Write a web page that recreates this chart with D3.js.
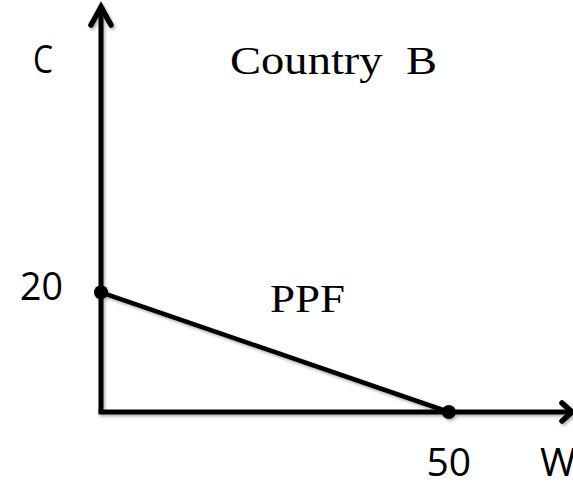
<!DOCTYPE html>
<html><head><meta charset="utf-8">
<script src="https://cdn.jsdelivr.net/npm/d3@7"></script>
<style>html,body{margin:0;padding:0;background:#fff;overflow:hidden}</style>
</head><body>
<script>
const title = "Country\u00a0\u00a0B";
const curveLabel = "PPF";
const xAxisLabel = "W";
const yAxisLabel = "C";
const wValues = [0, 50];
const cValues = [20, 0];
const xTickLabels = ["50"];
const yTickLabels = ["20"];
const axisMax = 68;

const W = 573, H = 486;
const svg = d3.select("body").append("svg").attr("width", W).attr("height", H);
const defs = svg.append("defs");
const f = defs.append("filter").attr("id","sh").attr("x","-20%").attr("y","-20%").attr("width","140%").attr("height","140%");
f.append("feDropShadow").attr("dx",1.5).attr("dy",2).attr("stdDeviation",1.5).attr("flood-color","#000").attr("flood-opacity",0.3);

const x = d3.scaleLinear().domain([0, axisMax]).range([101, 574]);
const y = d3.scaleLinear().domain([0, axisMax]).range([412, 5]);

const g = svg.append("g").attr("filter","url(#sh)");
// axes
g.append("line").attr("x1",x(0)).attr("y1",y(0)).attr("x2",x(0)).attr("y2",y(axisMax)+1)
  .attr("stroke","#000").attr("stroke-width",5);
g.append("line").attr("x1",x(0)-2.5).attr("y1",y(0)).attr("x2",x(axisMax)-1).attr("y2",y(0))
  .attr("stroke","#000").attr("stroke-width",5);
// arrowheads
g.append("path").attr("d",`M${x(0)-10},${y(axisMax)+20}L${x(0)},${y(axisMax)+2}L${x(0)+10},${y(axisMax)+20}`)
  .attr("fill","none").attr("stroke","#000").attr("stroke-width",5.5).attr("stroke-linecap","round").attr("stroke-linejoin","miter");
g.append("path").attr("d",`M${x(axisMax)-12},${y(0)-9}L${x(axisMax)-2},${y(0)}L${x(axisMax)-12},${y(0)+9}`)
  .attr("fill","none").attr("stroke","#000").attr("stroke-width",5.5).attr("stroke-linecap","round").attr("stroke-linejoin","miter");

// PPF line
const pts = wValues.map((w,i)=>({w, c:cValues[i]}));
g.append("path").datum(pts).attr("d", d3.line().x(d=>x(d.w)).y(d=>y(d.c)))
  .attr("fill","none").attr("stroke","#000").attr("stroke-width",4.5);
g.selectAll("circle").data(pts).join("circle")
  .attr("cx",d=>x(d.w)).attr("cy",d=>y(d.c)).attr("r",7).attr("fill","#000");

// texts
const sans = "'Open Sans', sans-serif";
const serif = "'Liberation Serif', 'Times New Roman', serif";
svg.append("text").attr("x",33).attr("y",73).attr("font-family",sans).attr("font-size",39)
  .attr("textLength",20).attr("lengthAdjust","spacingAndGlyphs").text(yAxisLabel);
svg.append("text").attr("x",230).attr("y",74).attr("font-family",serif).attr("font-size",41)
  .attr("textLength",207).attr("lengthAdjust","spacingAndGlyphs").text(title);
svg.append("text").attr("x",270).attr("y",312).attr("font-family",serif).attr("font-size",41)
  .attr("textLength",75).attr("lengthAdjust","spacingAndGlyphs").text(curveLabel);
svg.append("text").attr("x",20).attr("y",y(+yTickLabels[0])+8).attr("font-family",sans).attr("font-size",39)
  .attr("textLength",43).attr("lengthAdjust","spacingAndGlyphs").text(yTickLabels[0]);
svg.append("text").attr("x",x(+xTickLabels[0])).attr("y",476).attr("text-anchor","middle").attr("font-family",sans).attr("font-size",39)
  .text(xTickLabels[0]);
svg.append("text").attr("x",540).attr("y",476).attr("font-family",sans).attr("font-size",39).text(xAxisLabel);
</script>
</body></html>
